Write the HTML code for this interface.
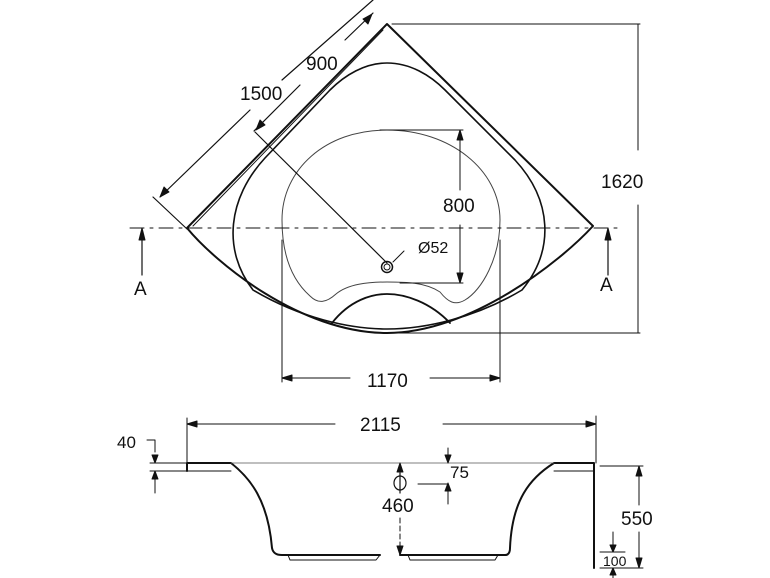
<!DOCTYPE html>
<html><head><meta charset="utf-8"><style>
html,body{margin:0;padding:0;background:#fff;}
svg{display:block}
text{font-family:"Liberation Sans",Arial,sans-serif;fill:#111;}
</style></head><body>
<svg width="770" height="578" viewBox="0 0 770 578" xmlns="http://www.w3.org/2000/svg">
<g fill="none" stroke="#111" stroke-linecap="round" stroke-linejoin="round">
<!-- outer shape -->
<path d="M387,24 L593,226 C560,262 470,333 387,333 C300,333 215,262 187,228 Z" stroke-width="2"/>
<path d="M383,30 L193,226" stroke-width="1"/>
<!-- inner shape -->
<path d="M387,63 C365,63 345,75 330,90 L265,158 C228,198 222,250 253,290 C300,318 350,329 387,329 C425,329 475,318 522,290 C555,250 552,200 515,160 L445,90 C430,75 410,63 387,63 Z" stroke-width="1.6"/>
<!-- seat cutout -->
<path d="M332,323 C350,300 372,294 387,294 C405,294 430,302 450,323" stroke-width="1.8"/>
<!-- footwell -->
<path d="M387,130 C450,130 500,170 500,220 C500,258 482,290 465,300 C455,306 448,302 440,292 C425,282 405,282 387,282 C368,282 348,284 336,294 C326,303 318,304 310,296 C292,280 282,255 282,220 C282,170 325,130 387,130 Z" stroke-width="1" stroke="#444"/>
<!-- drain -->
<circle cx="387" cy="267" r="5.5" stroke-width="1.5"/>
<circle cx="387" cy="267" r="3" stroke-width="1"/>
<path d="M393,262 L404,251" stroke-width="1"/>
<!-- center dashed line -->
<path d="M130,228 L620,228" stroke-width="1" stroke-dasharray="14,6,3,6"/>
<!-- A arrows -->
<path d="M142,275 L142,232 M608,275 L608,232" stroke-width="1.2"/>
<path d="M142,228 L139,240 L145,240 Z M608,228 L605,240 L611,240 Z" fill="#111"/>
<!-- 1620 -->
<path d="M392,24 L640,24 M390,333 L640,333 M638,24 L638,150 M638,205 L638,333" stroke-width="1"/>
<!-- 800 -->
<path d="M380,130 L463,130 M400,283 L463,283 M460,130 L460,190 M460,225 L460,283" stroke-width="1"/>
<path d="M460,130 L457,140 L463,140 Z M460,283 L457,273 L463,273 Z" fill="#111"/>
<!-- 1170 -->
<path d="M282,240 L282,382 M500,240 L500,382 M282,378 L350,378 M430,378 L500,378" stroke-width="1"/>
<path d="M282,378 L292,375 L292,381 Z M500,378 L490,375 L490,381 Z" fill="#111"/>
<!-- 1500 -->
<path d="M153,197 L187,229 M160,197 L250,110 M282,80 L373,0" stroke-width="1.2"/>
<path d="M160,197 L164,187 L169,192 Z" fill="#111"/>
<!-- 900 -->
<path d="M254,131 L300,85 M345,40 L373,13 M255,132 L387,263" stroke-width="1.2"/>
<path d="M256,130 L260,120 L265,125 Z M372,14 L368,24 L363,19 Z" fill="#111"/>
<!-- Section view -->
<path d="M187,471 L187,463 L231,463 C250,478 268,500 272,548 C273,553 276,555 282,555 L380,555 M400,555 L505,555 C509,555 510,552 510,548 C512,500 530,478 554,463 L594,463 L594,471" stroke-width="2"/>
<path d="M187,471 L231,471 M554,471 L594,471" stroke-width="1"/>
<path d="M288,555 L290,560 L376,560 L380,555 M408,555 L410,560 L495,560 L498,555" stroke-width="1"/>
<path d="M231,463 L554,463" stroke-width="0.8" stroke="#555"/>
<path d="M594,471 L594,568" stroke-width="2"/>
<!-- 2115 -->
<path d="M187,418 L187,471 M596,416 L596,463 M187,424 L335,424 M443,424 L596,424" stroke-width="1"/>
<path d="M187,424 L197,421 L197,427 Z M596,424 L586,421 L586,427 Z" fill="#111"/>
<!-- 40 -->
<path d="M147,440 L155,440 L155,452 M150,463 L187,463 M150,471 L187,471 M155,476 L155,493" stroke-width="1"/>
<path d="M155,463 L152,455 L158,455 Z M155,471 L152,479 L158,479 Z" fill="#111"/>
<!-- 75 -->
<path d="M448,448 L448,460 M418,484 L448,484 M448,486 L448,504" stroke-width="1"/>
<path d="M448,463 L445,455 L451,455 Z M448,483 L445,491 L451,491 Z" fill="#111"/>
<!-- 460 -->
<path d="M400,466 L400,478 M400,518 L400,553" stroke-width="1" stroke-dasharray="5,3"/>
<path d="M400,463 L397,472 L403,472 Z M400,555 L397,546 L403,546 Z" fill="#111"/>
<ellipse cx="400" cy="483" rx="6" ry="7" stroke-width="1.2"/>
<path d="M400,473 L400,493" stroke-width="1.2"/>
<!-- 550 -->
<path d="M600,466 L643,466 M600,568 L643,568 M639,466 L639,505 M639,532 L639,568" stroke-width="1"/>
<path d="M639,466 L636,476 L642,476 Z M639,568 L636,558 L642,558 Z" fill="#111"/>
<!-- 100 -->
<path d="M600,552 L625,552 M613,532 L613,552 M613,568 L613,578" stroke-width="1"/>
<path d="M613,552 L610,545 L616,545 Z M613,568 L610,575 L616,575 Z" fill="#111"/>
</g>
<g font-size="19">
<text x="601" y="188">1620</text>
<text x="443" y="212">800</text>
<text x="367" y="387">1170</text>
<text x="418" y="253" font-size="16">Ø52</text>
<text x="134" y="295">A</text>
<text x="600" y="291">A</text>
<text x="240" y="100">1500</text>
<text x="306" y="70">900</text>
<text x="360" y="431">2115</text>
<text x="117" y="448" font-size="17">40</text>
<text x="450" y="478" font-size="17">75</text>
<text x="382" y="512">460</text>
<text x="621" y="525">550</text>
<text x="603" y="566" font-size="14">100</text>
</g>
</svg>
</body></html>
